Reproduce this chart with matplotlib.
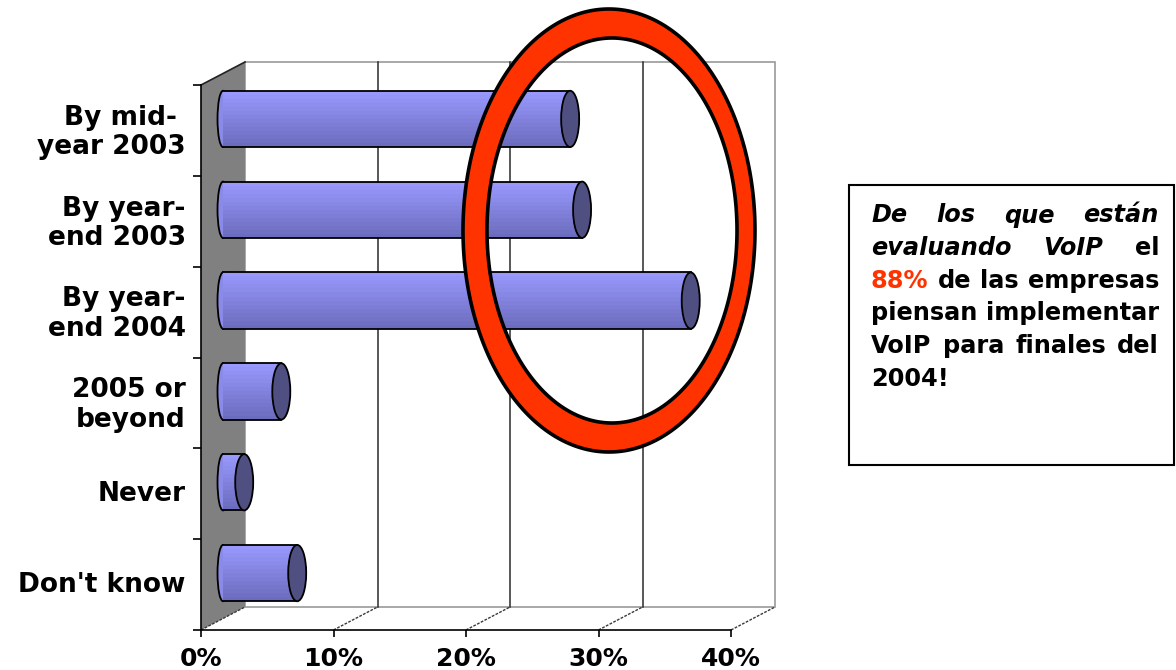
import numpy as np
import matplotlib
matplotlib.use("Agg")
import matplotlib.pyplot as plt
from matplotlib.patches import Polygon, Ellipse, PathPatch, Rectangle
from matplotlib.path import Path
from matplotlib.colors import to_rgb

# ---------------- data ----------------
categories = ["By mid- \nyear 2003", "By year-\nend 2003", "By year-\nend 2004",
              "2005 or\nbeyond", "Never", "Don't know"]
values = [26.2, 27.1, 35.3, 4.4, 1.6, 5.6]          # percent
xticks = [0, 10, 20, 30, 40]
xtick_labels = ["0%", "10%", "20%", "30%", "40%"]

box_lines = [
    [("De", "italic", "k"), ("los", "italic", "k"), ("que", "italic", "k"), ("están", "italic", "k")],
    [("evaluando", "italic", "k"), ("VoIP", "italic", "k"), ("el", "normal", "k")],
    [("88%", "normal", "#FF3300"), ("de", "normal", "k"), ("las", "normal", "k"), ("empresas", "normal", "k")],
    [("piensan", "normal", "k"), ("implementar", "normal", "k")],
    [("VoIP", "normal", "k"), ("para", "normal", "k"), ("finales", "normal", "k"), ("del", "normal", "k")],
    [("2004!", "normal", "k")],
]

# ---------------- figure ----------------
W, H = 1176, 670
fig = plt.figure(figsize=(W / 100, H / 100), dpi=100)
fig.patch.set_facecolor("white")
plt.rcParams["font.family"] = ["DejaVu Sans"]

ax = fig.add_axes([201 / W, (H - 630) / H, 530 / W, 545 / H])
ax.set_facecolor("none")
n = len(categories)
ax.set_xlim(0, 40)
ax.set_ylim(0, n)

# depth offset (pixels) -> data units
DPX, DPY = 44, 23
p0 = ax.transData.transform((0, 0))
p1 = ax.transData.transform((1, 1))
ux = DPX / (p1[0] - p0[0])
uy = DPY / (p1[1] - p0[1])

# back wall
ax.add_patch(Rectangle((ux, uy), 40, n, facecolor="white", edgecolor="#9a9a9a",
                       lw=1.2, zorder=0.5, clip_on=False))
# back grid lines
for xv in xticks[1:-1]:
    ax.plot([xv + ux, xv + ux], [uy, n + uy], color="#2a2a2a", lw=1.1, zorder=1, clip_on=False)
# left (gray) wall
ax.add_patch(Polygon([(0, 0), (0, n), (ux, n + uy), (ux, uy)], closed=True,
                     facecolor="#808080", edgecolor="none", zorder=1, clip_on=False))
ax.plot([0, ux], [n, n + uy], color="#222222", lw=1.2, zorder=1.2, clip_on=False)
# floor diagonals
for xv in xticks:
    ax.plot([xv, xv + ux], [0, uy], color="#3a3a3a", lw=1.0, ls=(0, (2, 1)),
            zorder=1.2, clip_on=False)

# ---------------- cylinder bars ----------------
h = 0.62
ox, oy = 0.5 * ux, 0.5 * uy
nstripes = 14
top_c = np.array(to_rgb("#9A9AFF"))
bot_c = np.array(to_rgb("#6A6ABC"))
cap_w = 18 / (p1[0] - p0[0])
left_w = 11 / (p1[0] - p0[0])
ypos = [n - 1 - i + 0.5 + oy for i in range(n)]

for yc, v in zip(ypos, values):
    ax.add_patch(Ellipse((ox, yc), left_w, h, facecolor="#8A8AE8", edgecolor="black",
                         lw=1.3, zorder=3, clip_on=False))
for k in range(nstripes):
    frac = (k + 0.5) / nstripes
    col = top_c * (1 - frac) + bot_c * frac
    ys = [yc + h / 2 - (k + 0.5) * h / nstripes for yc in ypos]
    ax.barh(ys, values, left=ox, height=h / nstripes * 1.02, color=col,
            edgecolor="none", lw=0, zorder=3.5)
for yc, v in zip(ypos, values):
    ax.plot([ox, ox + v], [yc + h / 2, yc + h / 2], color="black", lw=1.3, zorder=3.6)
    ax.plot([ox, ox + v], [yc - h / 2, yc - h / 2], color="black", lw=1.3, zorder=3.6)
    ax.add_patch(Ellipse((ox + v, yc), cap_w, h, facecolor="#4F4F82", edgecolor="black",
                         lw=1.3, zorder=4))

# ---------------- axes styling ----------------
for s in ("top", "right"):
    ax.spines[s].set_visible(False)
for s in ("left", "bottom"):
    ax.spines[s].set_color("black")
    ax.spines[s].set_linewidth(1.2)
    ax.spines[s].set_zorder(2)

ax.set_xticks(xticks)
ax.set_xticklabels(xtick_labels, fontsize=18, fontweight="bold")
ax.tick_params(axis="x", direction="out", length=5, width=1.2, pad=7, colors="black")

ax.set_yticks([n - 1 - i + 0.5 + 0.03 for i in range(n)])
ax.set_yticklabels(categories, fontsize=19, fontweight="bold", linespacing=1.18)
ax.set_yticks(range(n + 1), minor=True)
ax.tick_params(axis="y", which="major", length=0, pad=11)
ax.tick_params(axis="y", which="minor", direction="out", length=6, width=1.2)

# ---------------- red ring ----------------
def px_to_fig(xs, ys):
    return np.column_stack([np.asarray(xs) / W, 1 - np.asarray(ys) / H])

t = np.linspace(0, 2 * np.pi, 400)
outer = px_to_fig(609 + 146 * np.cos(t), 230.5 + 221.5 * np.sin(t))
inner = px_to_fig(612 + 125 * np.cos(t[::-1]), 230.5 + 192.5 * np.sin(t[::-1]))
verts = np.vstack([outer, inner])
codes = ([Path.MOVETO] + [Path.LINETO] * (len(outer) - 2) + [Path.CLOSEPOLY]) * 2
ring = PathPatch(Path(verts, codes), facecolor="#FF3300", edgecolor="black", lw=2.6,
                 transform=fig.transFigure, zorder=10, clip_on=False)
ax.add_patch(ring)

# ---------------- text box ----------------
fig.patches.append(Rectangle((849 / W, 1 - 465 / H), (1174 - 849) / W, (465 - 185) / H,
                             transform=fig.transFigure, facecolor="white",
                             edgecolor="black", lw=1.5, zorder=1))
renderer = fig.canvas.get_renderer()
L, R = 871, 1159
base0, step = 222.5, 32.6
for li, words in enumerate(box_lines):
    yb = 1 - (base0 + li * step) / H
    texts = [fig.text(0, yb, w, fontsize=17.3, fontweight="bold", style=st, color=c,
                      va="baseline", ha="left", zorder=5) for (w, st, c) in words]
    widths = [tx.get_window_extent(renderer).width for tx in texts]
    if len(texts) > 1 and li < len(box_lines) - 1:
        gap = (R - L - sum(widths)) / (len(texts) - 1)
    else:
        gap = 8
    x = L
    for tx, wd in zip(texts, widths):
        tx.set_x(x / W)
        x += wd + gap

fig.savefig("out.png", dpi=100)
